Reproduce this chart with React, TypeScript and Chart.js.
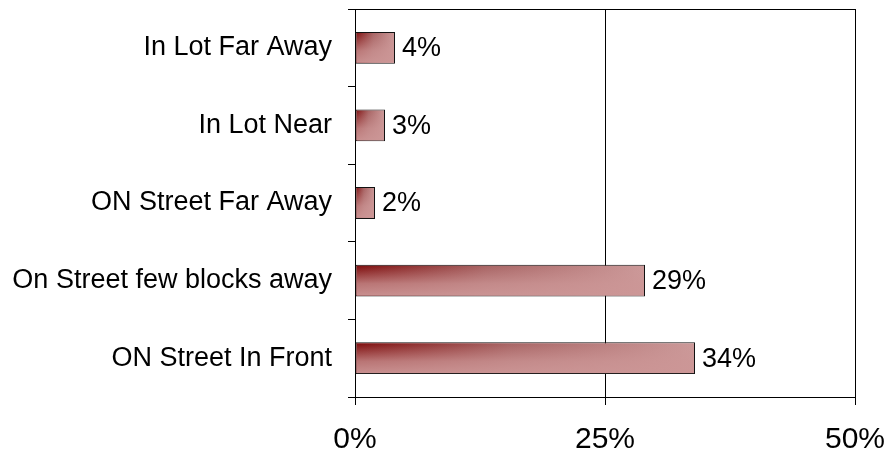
import React, { useEffect, useRef } from 'react';
import { Chart, registerables } from 'chart.js';
Chart.register(...registerables);

const categories = [
  'In Lot Far Away',
  'In Lot Near',
  'ON Street Far Away',
  'On Street few blocks away',
  'ON Street In Front',
];
const values = [4, 3, 2, 29, 34];
const xTicks = [0, 25, 50];
const FONT = "'Liberation Sans', Arial, Helvetica, sans-serif";

export default function App() {
  const ref = useRef<HTMLCanvasElement>(null);
  useEffect(() => {
    const canvas = ref.current!;
    const shade = {
      id: 'shade',
      afterDatasetsDraw(chart: any) {
        const ctx = chart.ctx;
        const meta = chart.getDatasetMeta(0);
        ctx.save();
        meta.data.forEach((el: any) => {
          const { x, y, base, height } = el.getProps(['x', 'y', 'base', 'height'], true);
          const top = y - height / 2 + 1;
          const bottom = y + height / 2 - 1;
          const g = ctx.createLinearGradient(0, top, 0, bottom);
          g.addColorStop(0, 'rgba(204,150,150,0)');
          g.addColorStop(0.6, 'rgba(204,150,150,0.75)');
          g.addColorStop(1, 'rgba(204,150,150,0.95)');
          ctx.fillStyle = g;
          ctx.fillRect(base + 1, top, x - base - 2, bottom - top);
        });
        ctx.restore();
      },
    };
    const valueLabels = {
      id: 'valueLabels',
      afterDatasetsDraw(chart: any) {
        const ctx = chart.ctx;
        const meta = chart.getDatasetMeta(0);
        ctx.save();
        ctx.font = `27px ${FONT}`;
        ctx.fillStyle = '#000';
        ctx.textBaseline = 'middle';
        ctx.textAlign = 'left';
        meta.data.forEach((el: any, i: number) => {
          ctx.fillText(values[i] + '%', el.x + 7, el.y + 1);
        });
        ctx.restore();
      },
    };
    const frame = {
      id: 'frame',
      afterDraw(chart: any) {
        const { ctx, chartArea } = chart;
        ctx.save();
        ctx.strokeStyle = '#000';
        ctx.lineWidth = 1;
        ctx.beginPath();
        ctx.moveTo(chartArea.left, Math.round(chartArea.top) + 0.5);
        ctx.lineTo(chartArea.right + 1, Math.round(chartArea.top) + 0.5);
        ctx.stroke();
        ctx.restore();
      },
    };
    const chart = new Chart(canvas, {
      type: 'bar',
      data: {
        labels: categories,
        datasets: [
          {
            data: values,
            backgroundColor: (c: any) => {
              const chart = c.chart;
              if (!chart.chartArea || c.dataIndex === undefined) return '#b57575';
              const xs = chart.scales.x;
              const x0 = xs.getPixelForValue(0);
              const x1 = xs.getPixelForValue(values[c.dataIndex]);
              const g = chart.ctx.createLinearGradient(x0, 0, x1, 0);
              g.addColorStop(0, '#7e0c0c');
              g.addColorStop(0.45, '#a86464');
              g.addColorStop(1, '#cc9a9a');
              return g;
            },
            borderColor: '#111',
            borderWidth: 1,
            borderSkipped: false,
            categoryPercentage: 1,
            barPercentage: 0.41,
          },
        ],
      },
      options: {
        indexAxis: 'y',
        responsive: false,
        animation: false,
        layout: { padding: { top: 9, right: 32, left: 0, bottom: 0 } },
        plugins: { legend: { display: false }, tooltip: { enabled: false } },
        scales: {
          x: {
            type: 'linear',
            min: 0,
            max: 50,
            afterBuildTicks: (s: any) => {
              s.ticks = xTicks.map((v) => ({ value: v }));
            },
            ticks: {
              callback: (v: any) => v + '%',
              font: { size: 30, family: FONT },
              color: '#000',
              padding: 17,
              maxRotation: 0,
              autoSkip: false,
            },
            grid: { color: '#000', lineWidth: 1, tickLength: 8, drawOnChartArea: true },
            border: { color: '#000', width: 1 },
            afterFit: (s: any) => {
              s.height = 56;
              s.paddingLeft = 0;
              s.paddingRight = 0;
            },
          },
          y: {
            ticks: { font: { size: 27, family: FONT }, color: '#000', padding: 16, autoSkip: false },
            grid: { drawOnChartArea: false, color: '#000', tickLength: 7, offset: true },
            border: { color: '#000', width: 1 },
            afterFit: (s: any) => {
              s.width = 355;
              s.paddingTop = 0;
              s.paddingBottom = 0;
            },
          },
        },
      },
      plugins: [shade, valueLabels, frame],
    } as any);
    return () => chart.destroy();
  }, []);
  return (
    <div style={{ position: 'absolute', left: 0, top: 0, width: 887, height: 453, background: '#fff' }}>
      <canvas ref={ref} width={887} height={453} style={{ display: 'block' }} />
    </div>
  );
}
